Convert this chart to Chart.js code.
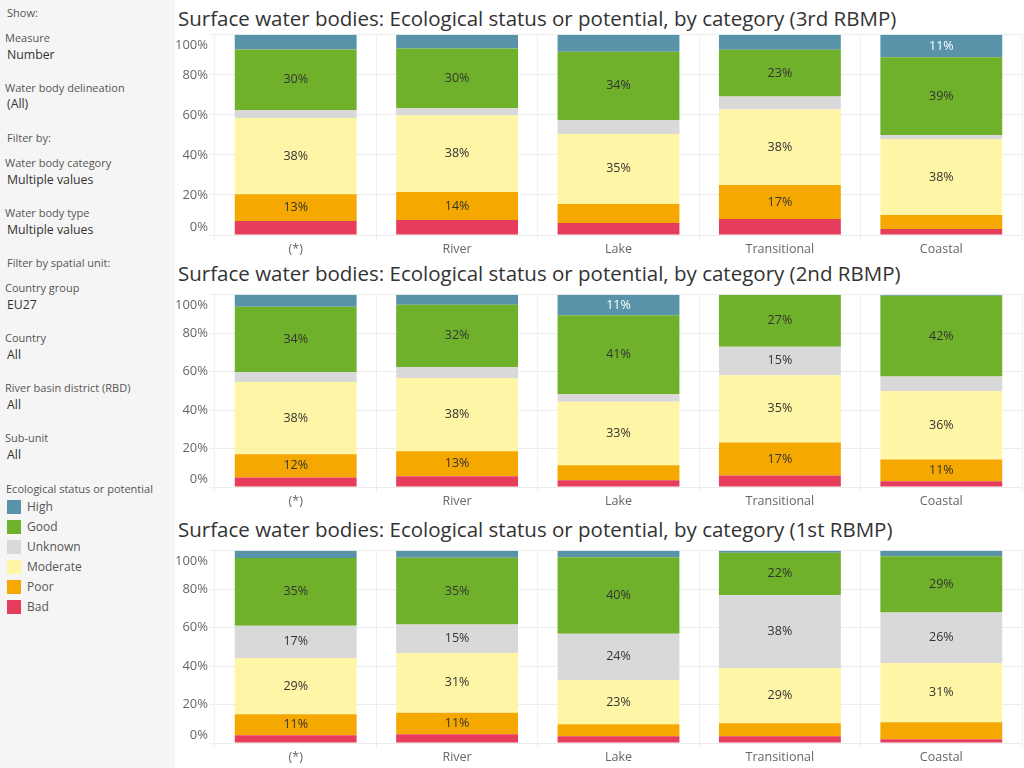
<!DOCTYPE html>
<html>
<head>
<meta charset="utf-8">
<script src="https://cdn.jsdelivr.net/npm/chart.js@4.4.1/dist/chart.umd.min.js"></script>
<style>
  body { margin:0; width:1024px; height:768px; overflow:hidden; background:#fff; font-family:"Open Sans", sans-serif; }
  #side { position:absolute; left:0; top:0; width:175px; height:768px; background:#f5f5f5; color:#555; }
  #side .t { position:absolute; left:5px; font-size:11px; line-height:16px; color:#555; white-space:nowrap; }
  #side .v { position:absolute; left:7px; font-size:12.3px; line-height:16px; color:#333; white-space:nowrap; }
  #side .sw { position:absolute; left:7px; width:14px; height:14px; }
  .title { position:absolute; left:178px; font-size:20.5px; line-height:24px; color:#333; white-space:nowrap; }
  .wrap { position:absolute; left:175px; width:849px; }
</style>
</head>
<body>
<div id="side"></div>

<div class="title" style="top:6px">Surface water bodies: Ecological status or potential, by category (3rd RBMP)</div>
<div class="wrap" style="top:25px;height:234px"><canvas id="c3"></canvas></div>

<div class="title" style="top:261px">Surface water bodies: Ecological status or potential, by category (2nd RBMP)</div>
<div class="wrap" style="top:285px;height:226px"><canvas id="c2"></canvas></div>

<div class="title" style="top:517px">Surface water bodies: Ecological status or potential, by category (1st RBMP)</div>
<div class="wrap" style="top:541px;height:226px"><canvas id="c1"></canvas></div>

<script>
// categories on the x axis
var categories = ['(*)', 'River', 'Lake', 'Transitional', 'Coastal'];
var yTicks = [0, 20, 40, 60, 80, 100];

// status classes, bottom of the stack first
var statuses = ['Bad', 'Poor', 'Moderate', 'Unknown', 'Good', 'High'];
var statusColors = ['#e63d5c', '#f5a800', '#fff5a6', '#d9d9d9', '#70b12c', '#5893aa'];
var labelColors = ['#333', '#333', '#333', '#333', '#333', '#fff'];

// 3rd RBMP, share in % per category
var bad3 = [7, 7.5, 6, 8, 3];
var poor3 = [13.4, 14, 9.5, 17, 7];
var moderate3 = [38, 38.3, 35, 37.7, 38];
var unknown3 = [4, 3.5, 7, 6.5, 2];
var good3 = [30.3, 29.8, 34, 23.3, 38.8];
var high3 = [7.3, 6.9, 8.5, 7.5, 11.2];

// 2nd RBMP
var bad2 = [5, 5.6, 3.5, 6, 3];
var poor2 = [12, 13, 7.8, 17.2, 11.3];
var moderate2 = [37.6, 38.1, 33, 35, 35.6];
var unknown2 = [5.2, 5.7, 4.1, 14.8, 7.6];
var good2 = [34, 32.4, 41, 27, 42];
var high2 = [6.2, 5.2, 10.6, 0, 0.5];

// 1st RBMP
var bad1 = [4, 4.5, 3.5, 3.5, 2];
var poor1 = [11, 11.3, 6.3, 6.8, 8.8];
var moderate1 = [29.2, 31, 23, 28.7, 30.8];
var unknown1 = [16.8, 14.8, 24, 38, 26.3];
var good1 = [35.3, 34.8, 39.8, 22, 29.3];
var high1 = [3.7, 3.6, 3.4, 1, 2.8];

var FONT = '"Open Sans", sans-serif';

// sidebar filters (Tableau style)
var sideItems = [
  ['t', 'Show:', 5, 7], ['t', 'Measure', 30], ['v', 'Number', 47],
  ['t', 'Water body delineation', 80], ['v', '(All)', 96],
  ['t', 'Filter by:', 130, 7], ['t', 'Water body category', 155], ['v', 'Multiple values', 172],
  ['t', 'Water body type', 205], ['v', 'Multiple values', 222],
  ['t', 'Filter by spatial unit:', 255, 7], ['t', 'Country group', 280], ['v', 'EU27', 297],
  ['t', 'Country', 330], ['v', 'All', 347],
  ['t', 'River basin district (RBD)', 380], ['v', 'All', 397],
  ['t', 'Sub-unit', 430], ['v', 'All', 447],
  ['t', 'Ecological status or potential', 481, 6]
];
var side = document.getElementById('side');
sideItems.forEach(function(it) {
  var d = document.createElement('div');
  d.className = it[0];
  d.textContent = it[1];
  d.style.top = it[2] + 'px';
  if (it[3]) d.style.left = it[3] + 'px';
  side.appendChild(d);
});
// legend, High on top
for (var k = statuses.length - 1; k >= 0; k--) {
  var row = statuses.length - 1 - k;
  var sw = document.createElement('div');
  sw.className = 'sw';
  sw.style.top = (500 + row * 20) + 'px';
  sw.style.background = statusColors[k];
  side.appendChild(sw);
  var lb = document.createElement('div');
  lb.className = 'v';
  lb.style.left = '27px';
  lb.style.top = (499 + row * 20) + 'px';
  lb.style.color = '#555';
  lb.style.fontSize = '12px';
  lb.textContent = statuses[k];
  side.appendChild(lb);
}

// percent labels inside the bigger segments
var segmentLabels = {
  id: 'segmentLabels',
  afterDatasetsDraw: function(chart) {
    var ctx = chart.ctx;
    ctx.save();
    ctx.font = '12.5px ' + FONT;
    ctx.textAlign = 'center';
    ctx.textBaseline = 'middle';
    chart.data.datasets.forEach(function(ds, i) {
      var meta = chart.getDatasetMeta(i);
      meta.data.forEach(function(bar, j) {
        var v = ds.data[j];
        if (v < 10.5) return;
        ctx.fillStyle = ds.labelColor;
        ctx.fillText(Math.round(v) + '%', bar.x, (bar.y + bar.base) / 2);
      });
    });
    ctx.restore();
  }
};

// y labels kept inside the plot height, like Tableau does for the end ticks
var yLabels = {
  id: 'yLabels',
  afterDraw: function(chart) {
    var s = chart.scales.y, area = chart.chartArea, ctx = chart.ctx;
    ctx.save();
    ctx.font = '13px ' + FONT;
    ctx.fillStyle = '#666';
    ctx.textAlign = 'right';
    ctx.textBaseline = 'middle';
    yTicks.forEach(function(v) {
      var py = s.getPixelForValue(v);
      py = Math.max(area.top + 10, Math.min(area.bottom - 8, py));
      ctx.fillText(v + '%', s.right - 7, py);
    });
    ctx.restore();
  }
};

function makeChart(id, series) {
  var datasets = series.map(function(vals, i) {
    return {
      label: statuses[i],
      data: vals,
      backgroundColor: statusColors[i],
      labelColor: labelColors[i],
      borderWidth: 0,
      categoryPercentage: 1,
      barPercentage: 0.755
    };
  });
  return new Chart(document.getElementById(id), {
    type: 'bar',
    data: { labels: categories, datasets: datasets },
    options: {
      responsive: true,
      maintainAspectRatio: false,
      animation: false,
      layout: { padding: { right: 2 } },
      plugins: { legend: { display: false }, tooltip: { enabled: false } },
      scales: {
        x: {
          stacked: true,
          grid: { color: '#f0f0f0', tickLength: 5 },
          border: { color: '#ebebeb' },
          ticks: { color: '#666', font: { family: FONT, size: 12.5 }, padding: 2 },
          afterFit: function(s) { s.height = 24; }
        },
        y: {
          stacked: true,
          min: 0, max: 100,
          afterBuildTicks: function(s) { s.ticks = yTicks.map(function(v) { return { value: v }; }); },
          grid: { color: '#ececec', tickLength: 5 },
          border: { display: false },
          ticks: { color: 'rgba(0,0,0,0)', font: { family: FONT, size: 13 }, padding: 2,
                   callback: function(v) { return v + '%'; } },
          afterFit: function(s) { s.width = 40; }
        }
      }
    },
    plugins: [segmentLabels, yLabels]
  });
}

makeChart('c3', [bad3, poor3, moderate3, unknown3, good3, high3]);
makeChart('c2', [bad2, poor2, moderate2, unknown2, good2, high2]);
makeChart('c1', [bad1, poor1, moderate1, unknown1, good1, high1]);
</script>
</body>
</html>
